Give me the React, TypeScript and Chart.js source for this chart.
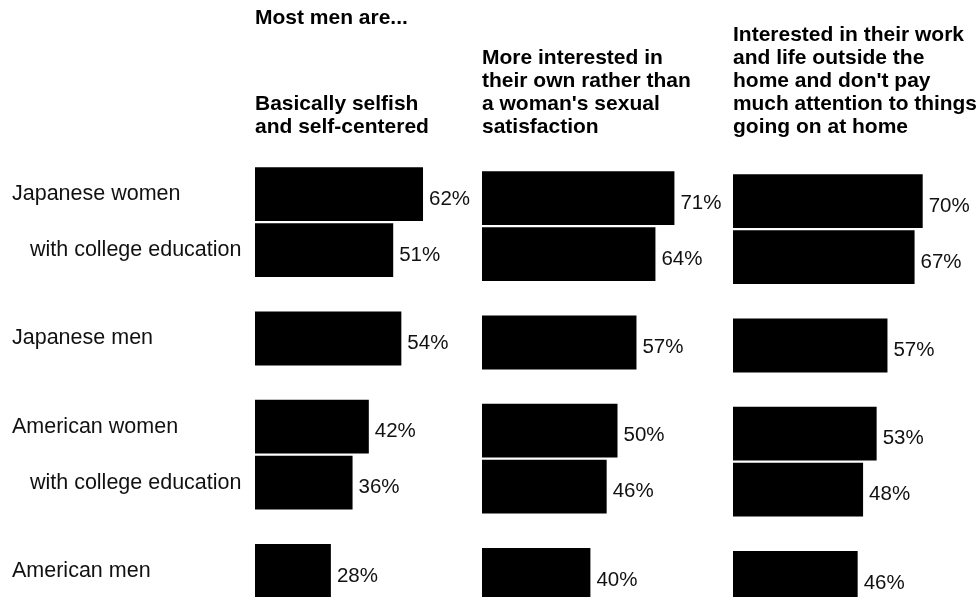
import React, { useEffect, useRef } from "react";
import { Chart, registerables } from "chart.js";

Chart.register(...registerables);

// ---- data ----
const groups = ["Japanese women", "Japanese men", "American women", "American men"];
const groupTickLabels: (string | string[])[] = [
  ["Japanese women", "   with college education"],
  "Japanese men",
  ["American women", "   with college education"],
  "American men",
];

const selfishAll = [62, 54, 42, 28];
const selfishCollege = [51, null, 36, null];

const sexualAll = [71, 57, 50, 40];
const sexualCollege = [64, null, 46, null];

const outsideAll = [70, 57, 53, 46];
const outsideCollege = [67, null, 48, null];

const header1Top = ["Most men are..."];
const header1 = ["Basically selfish", "and self-centered"];
const header2 = ["More interested in", "their own rather than", "a woman's sexual", "satisfaction"];
const header3 = [
  "Interested in their work",
  "and life outside the",
  "home and don't pay",
  "much attention to things",
  "going on at home",
];

// ---- styling ----
const FONT = "'Liberation Sans', Arial, Helvetica, sans-serif";
const PX_PER_PCT = 2.71;
const PLOT_H = 465;

const valueLabels = {
  id: "valueLabels",
  afterDatasetsDraw(chart: any) {
    const ctx = chart.ctx;
    ctx.save();
    ctx.font = `20.5px ${FONT}`;
    ctx.fillStyle = "#111";
    ctx.textAlign = "left";
    ctx.textBaseline = "middle";
    chart.data.datasets.forEach((ds: any, di: number) => {
      const meta = chart.getDatasetMeta(di);
      meta.data.forEach((el: any, i: number) => {
        const v = ds.data[i];
        if (v === null || v === undefined) return;
        ctx.fillText(`${v}%`, el.x + 6, el.y + 5);
      });
    });
    ctx.restore();
  },
};

type PanelProps = {
  left: number;
  width: number;
  plotLeft: number; // y-axis area width (0 when hidden)
  areaTop: number;
  all: (number | null)[];
  college: (number | null)[];
  showY: boolean;
  build: (opts: any) => void;
};

function Panel(p: PanelProps) {
  const ref = useRef<HTMLCanvasElement | null>(null);
  const height = p.areaTop + PLOT_H;
  useEffect(() => {
    if (!ref.current) return;
    const plotW = p.width - p.plotLeft;
    const options: any = {
      responsive: false,
      animation: false,
      indexAxis: "y",
      layout: { padding: { left: p.showY ? 12 : 0, right: 0, top: 0, bottom: 0 } },
      plugins: {
        legend: { display: false },
        tooltip: { enabled: false },
        title: { display: false },
        subtitle: { display: false },
      },
      scales: {
        x: {
          display: false,
          min: 0,
          max: plotW / PX_PER_PCT,
          stacked: false,
        },
        y: {
          display: p.showY,
          grid: { display: false, drawTicks: false },
          border: { display: false },
          ticks: {
            crossAlign: "far",
            color: "#111",
            autoSkip: false,
            font: { family: FONT, size: 21.5, lineHeight: "56px" },
          },
          afterFit: (scale: any) => {
            if (p.showY) scale.width = p.plotLeft - 12;
            scale.paddingTop = 0;
            scale.paddingBottom = 0;
          },
        },
      },
    };
    p.build(options);
    const chart = new Chart(ref.current, {
      type: "bar",
      data: {
        labels: groupTickLabels as any,
        datasets: [
          {
            label: "All",
            data: p.all as any,
            backgroundColor: "#000",
            borderWidth: 0,
            skipNull: true,
            categoryPercentage: 0.9634,
            barPercentage: 0.964,
            maxBarThickness: 54,
          },
          {
            label: "With college education",
            data: p.college as any,
            backgroundColor: "#000",
            borderWidth: 0,
            skipNull: true,
            categoryPercentage: 0.9634,
            barPercentage: 0.964,
            maxBarThickness: 54,
          },
        ],
      },
      options,
      plugins: [valueLabels],
    });
    return () => chart.destroy();
  }, []);
  return (
    <canvas
      ref={ref}
      width={p.width}
      height={height}
      style={{ position: "absolute", left: p.left, top: 0, width: p.width, height }}
    />
  );
}

const titleFont = { family: FONT, size: 21, weight: "bold" as const, lineHeight: "23px" };

export default function App() {
  return (
    <div
      style={{
        position: "fixed",
        left: 0,
        top: 0,
        width: 977,
        height: 597,
        overflow: "hidden",
        background: "#fff",
      }}
    >
      <Panel
        left={0}
        width={482}
        plotLeft={255}
        areaTop={164}
        all={selfishAll}
        college={selfishCollege}
        showY={true}
        build={(o) => {
          o.plugins.title = {
            display: true,
            text: header1Top,
            align: "start",
            fullSize: false,
            color: "#000",
            font: titleFont,
            padding: { top: 6.5, bottom: 63 },
          };
          o.plugins.subtitle = {
            display: true,
            text: header1,
            align: "start",
            fullSize: false,
            color: "#000",
            font: titleFont,
            padding: { top: 0, bottom: 25.5 },
          };
        }}
      />
      <Panel
        left={482}
        width={251}
        plotLeft={0}
        areaTop={168}
        all={sexualAll}
        college={sexualCollege}
        showY={false}
        build={(o) => {
          o.plugins.title = {
            display: true,
            text: header2,
            align: "start",
            fullSize: true,
            color: "#000",
            font: titleFont,
            padding: { top: 46.5, bottom: 29.5 },
          };
        }}
      />
      <Panel
        left={733}
        width={244}
        plotLeft={0}
        areaTop={171}
        all={outsideAll}
        college={outsideCollege}
        showY={false}
        build={(o) => {
          o.plugins.title = {
            display: true,
            text: header3,
            align: "start",
            fullSize: true,
            color: "#000",
            font: titleFont,
            padding: { top: 23.5, bottom: 32.5 },
          };
        }}
      />
    </div>
  );
}
